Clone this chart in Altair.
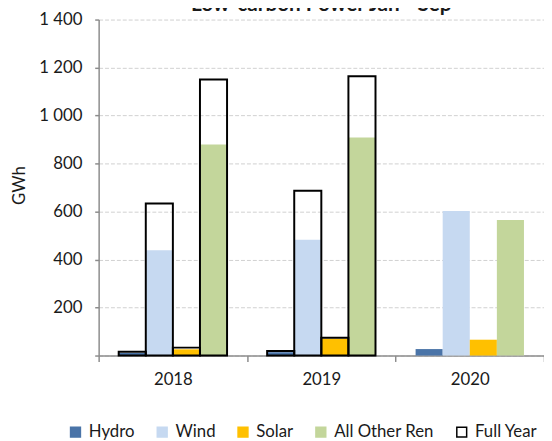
import altair as alt
import pandas as pd

years = ["2018", "2019", "2020"]
sources = ["Hydro", "Wind", "Solar", "All Other Ren"]

hydro_jan_sep = [11, 14, 27]
wind_jan_sep = [439, 483, 602]
solar_jan_sep = [26, 70, 66]
other_jan_sep = [879, 909, 565]

hydro_full = [16, 19, None]
wind_full = [634, 687, None]
solar_full = [33, 74, None]
other_full = [1150, 1164, None]

legend_items = sources + ["Full Year"]
fill_colors = ["#4A74A8", "#C6D9F1", "#FFC000", "#C3D69B", "#FFFFFF"]
stroke_colors = ["#4A74A8", "#C6D9F1", "#FFC000", "#C3D69B", "#000000"]

jan_sep = {"Hydro": hydro_jan_sep, "Wind": wind_jan_sep,
           "Solar": solar_jan_sep, "All Other Ren": other_jan_sep}
full = {"Hydro": hydro_full, "Wind": wind_full,
        "Solar": solar_full, "All Other Ren": other_full}

rows = []
for i, yr in enumerate(years):
    for s in sources:
        rows.append({"year": yr, "source": s,
                     "jan_sep": jan_sep[s][i], "full": full[s][i]})
df = pd.DataFrame(rows)

FONT = "Lato"
TXT = "#1A1A1A"
AX = "#8C8C8C"

x_enc = alt.X("year:N",
              scale=alt.Scale(domain=years, paddingInner=0, paddingOuter=0),
              axis=alt.Axis(title=None, tickBand="extent", labelAngle=0,
                            domainColor=AX, domainWidth=1.5, tickColor=AX,
                            tickWidth=1.5, tickSize=6, labelPadding=10,
                            labelFont=FONT, labelFontSize=17, labelColor=TXT,
                            grid=False))
xo_enc = alt.XOffset("source:N",
                     scale=alt.Scale(domain=sources, paddingInner=0, paddingOuter=0.74))

y_axis = alt.Axis(title="GWh", values=[0, 200, 400, 600, 800, 1000, 1200, 1400],
                  labelExpr="datum.value == 0 ? '' : replace(format(datum.value, ','), ',', ' ')",
                  grid=True, gridDash=[4, 2], gridColor="#D0D0D0", gridWidth=1,
                  domainColor=AX, domainWidth=1.5, tickColor=AX, tickWidth=1.5,
                  tickSize=4, labelPadding=13, labelFont=FONT, labelFontSize=17,
                  labelColor=TXT, titleFont=FONT, titleFontSize=17,
                  titleFontWeight="normal", titleColor=TXT,
                  titleX=-80, titleY=168, titleAngle=-90,
                  titleAlign="center", titleBaseline="middle")
y_scale = alt.Scale(domain=[0, 1400], nice=False)

legend = alt.Legend(title=None, orient="none", direction="horizontal",
                    legendX=-32, legendY=410, symbolType="square",
                    symbolSize=100, symbolStrokeWidth=1.5,
                    labelFont=FONT, labelFontSize=17, labelColor=TXT,
                    labelOffset=5, columnPadding=19, padding=0)

bars = alt.Chart(df).mark_bar(strokeWidth=0).encode(
    x=x_enc,
    xOffset=xo_enc,
    y=alt.Y("jan_sep:Q", scale=y_scale, axis=y_axis),
    fill=alt.Fill("source:N", scale=alt.Scale(domain=legend_items, range=fill_colors),
                  legend=legend),
    stroke=alt.Stroke("source:N", scale=alt.Scale(domain=legend_items, range=stroke_colors),
                      legend=legend),
)

outline = alt.Chart(df).transform_filter("isValid(datum.full)").mark_bar(
    fill="transparent", stroke="#000000", strokeWidth=2
).encode(
    x=x_enc,
    xOffset=xo_enc,
    y=alt.Y("full:Q", scale=y_scale, axis=y_axis),
)

chart = alt.layer(bars, outline).properties(
    width=452, height=341,
    autosize=alt.AutoSizeParams(type="none"),
    padding={"left": 92, "top": 8.5, "right": 0, "bottom": 83.5},
    title=alt.TitleParams("Low-carbon Power Jan - Sep", font=FONT, fontSize=21,
                          fontWeight="bold", color=TXT, anchor="middle",
                          frame="group", baseline="bottom", offset=-25),
    background="white",
).configure_view(stroke=None)

chart.save("out.html", embed_options={"renderer": "svg", "actions": False})
